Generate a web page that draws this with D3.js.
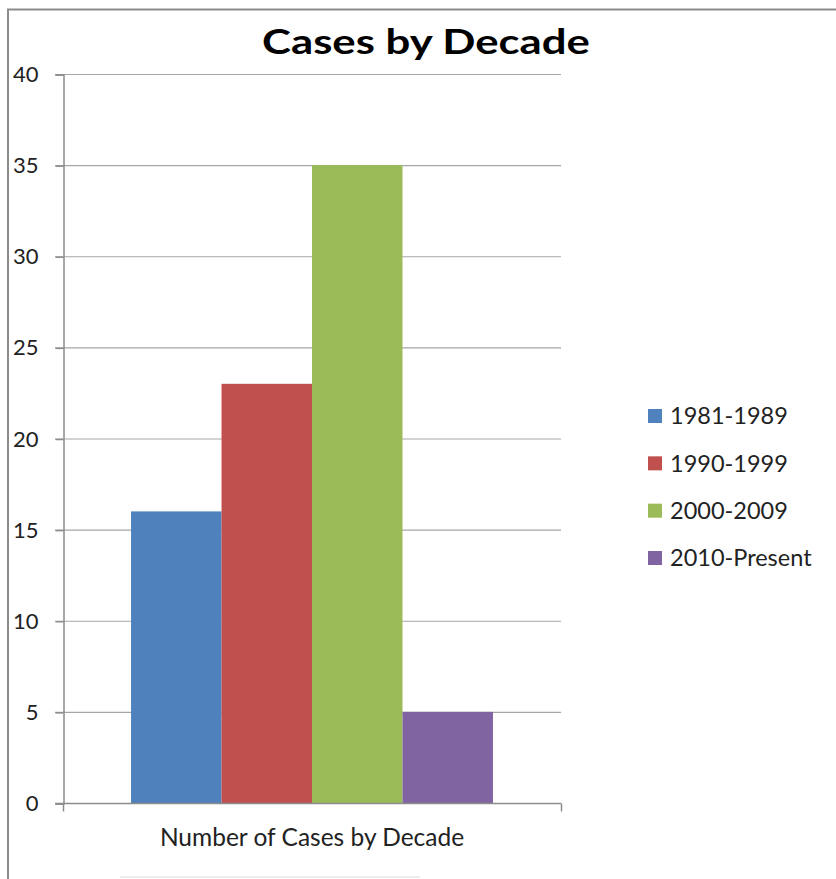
<!DOCTYPE html>
<html>
<head>
<meta charset="utf-8">
<script src="https://cdn.jsdelivr.net/npm/d3@7"></script>
<style>
  html, body { margin: 0; padding: 0; background: #fff; }
  svg { display: block; }
  text { font-family: Lato, "Open Sans", sans-serif; }
</style>
</head>
<body>
<div id="chart"></div>
<script>
// Data
const categories = ["Number of Cases by Decade"];
const seriesNames = ["1981-1989", "1990-1999", "2000-2009", "2010-Present"];
const seriesValues = [16, 23, 35, 5];
const seriesColors = ["#4F81BD", "#C0504D", "#9BBB59", "#8064A2"];
const yTicks = [0, 5, 10, 15, 20, 25, 30, 35, 40];
const chartTitle = "Cases by Decade";

const W = 836, H = 879;
const plot = { left: 63, right: 561, top: 74, bottom: 803 };

const svg = d3.select("#chart").append("svg")
  .attr("width", W).attr("height", H);

svg.append("rect").attr("width", W).attr("height", H).attr("fill", "#fff");

// Chart-area frame (left and top edges)
svg.append("path")
  .attr("d", `M8,${H} V9.5 H${W}`)
  .attr("fill", "none").attr("stroke", "#8c8c8c").attr("stroke-width", 2);

const y = d3.scaleLinear().domain([0, 40]).range([plot.bottom, plot.top]);

const x0 = d3.scaleBand().domain(categories)
  .range([plot.left, plot.right]).paddingInner(0).paddingOuter(0.188);
const x1 = d3.scaleBand().domain(seriesNames)
  .range([0, x0.bandwidth()]).padding(0);

// Gridlines
svg.append("g").selectAll("line").data(yTicks.filter(d => d > 0)).join("line")
  .attr("x1", plot.left - 8).attr("x2", plot.right)
  .attr("y1", d => y(d) + 0.5).attr("y2", d => y(d) + 0.5)
  .attr("stroke", "#a6a6a6").attr("stroke-width", 1.2);

// Y axis
const yAxis = d3.axisLeft(y).tickValues(yTicks).tickSize(8).tickPadding(17);
const gy = svg.append("g").attr("transform", `translate(${plot.left + 0.5},0.5)`).call(yAxis);
gy.select(".domain").attr("stroke", "#8c8c8c").attr("stroke-width", 1.5);
gy.selectAll(".tick line").attr("stroke", "#8c8c8c").attr("stroke-width", 1.5);
gy.selectAll(".tick text")
  .attr("font-family", "Lato, sans-serif").attr("font-size", 22).attr("fill", "#222");

// Bars
svg.append("g").selectAll("rect").data(seriesNames).join("rect")
  .attr("x", (d, i) => x0(categories[0]) + x1(d))
  .attr("width", x1.bandwidth())
  .attr("y", (d, i) => y(seriesValues[i]))
  .attr("height", (d, i) => y(0) - y(seriesValues[i]))
  .attr("fill", (d, i) => seriesColors[i]);

// X axis
const xAxis = d3.axisBottom(x0).tickSize(0).tickPadding(25);
const gx = svg.append("g").attr("transform", `translate(0,${plot.bottom + 0.5})`).call(xAxis);
gx.select(".domain").remove();
gx.append("line").attr("x1", plot.left - 8).attr("x2", plot.right)
  .attr("stroke", "#8c8c8c").attr("stroke-width", 1.5);
gx.selectAll(".edge").data([plot.left, plot.right]).join("line").attr("class", "edge")
  .attr("x1", d => d + 0.5).attr("x2", d => d + 0.5).attr("y1", 0).attr("y2", 8)
  .attr("stroke", "#8c8c8c").attr("stroke-width", 1.5);
gx.selectAll(".tick text")
  .attr("font-family", "Lato, sans-serif").attr("font-size", 24.5).attr("fill", "#222")
  .attr("dy", "0.71em");

// Title, widened horizontally to span 328px
const titleG = svg.append("g");
const titleText = titleG.append("text")
  .attr("x", 0).attr("y", 0)
  .attr("text-anchor", "middle")
  .attr("font-size", 35).attr("font-weight", "bold").attr("fill", "#000")
  .text(chartTitle);
const tw = titleText.node().getComputedTextLength() || 260;
titleG.attr("transform", `translate(426,54) scale(${328 / tw},1)`);

// Legend
const legend = svg.append("g").attr("transform", "translate(648,0)");
const legendY = d3.scalePoint().domain(seriesNames).range([416, 558]);
const items = legend.selectAll("g").data(seriesNames).join("g")
  .attr("transform", d => `translate(0,${legendY(d)})`);
items.append("rect").attr("x", 0).attr("y", -7).attr("width", 14).attr("height", 14)
  .attr("fill", (d, i) => seriesColors[i]);
items.append("text").attr("x", 22).attr("y", 0).attr("dy", "0.36em")
  .attr("font-size", 23.5).attr("fill", "#222").text(d => d);

// Faint rule along the foot of the frame
svg.append("line").attr("x1", 120).attr("x2", 420).attr("y1", 877).attr("y2", 877)
  .attr("stroke", "#ececec").attr("stroke-width", 2);
</script>
</body>
</html>
